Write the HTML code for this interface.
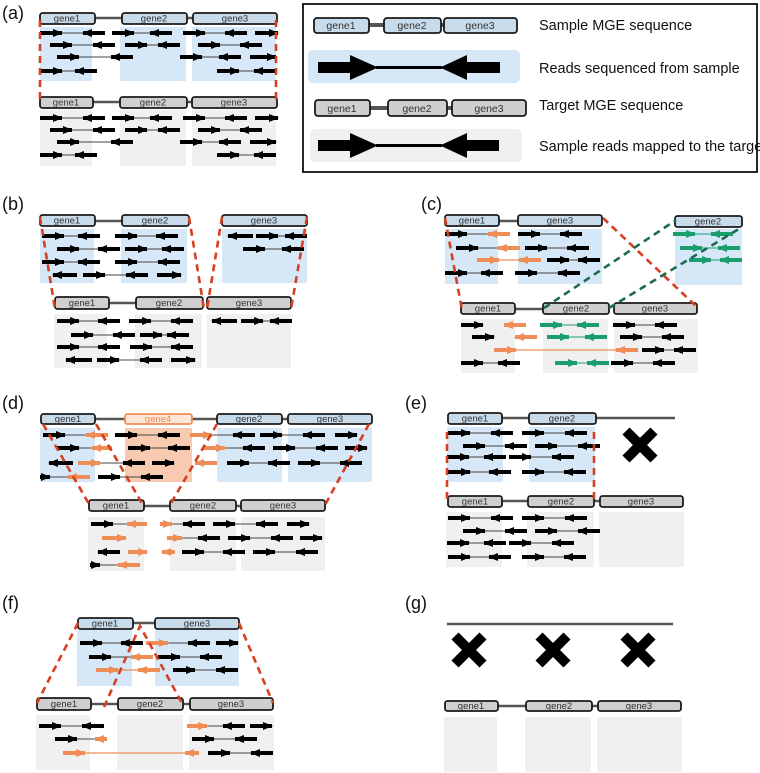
<!DOCTYPE html>
<html><head><meta charset="utf-8"><style>
html,body{margin:0;padding:0;background:#fff}
svg{display:block}
text{font-family:"Liberation Sans",sans-serif}
.lab{font-size:18px;fill:#111}
.gt{font-size:9.5px;fill:#333;text-anchor:middle}
.sb{fill:#c8dbea;stroke:#1a1a1a;stroke-width:1.8}
.tb{fill:#cfcfcf;stroke:#1a1a1a;stroke-width:1.8}
.bl{fill:#d6e8f7}.gy{fill:#f0f0f0}.ob{fill:#f8cbb0}
.ln{stroke:#555;stroke-width:2.5}
.k path{stroke:#000;stroke-width:4;fill:none;marker-end:url(#mk)}
.o path{stroke:#f08c55;stroke-width:4;fill:none;marker-end:url(#mo)}
.gr path{stroke:#1a9e6e;stroke-width:4;fill:none;marker-end:url(#mg)}
.th path{stroke:#444;stroke-width:1;fill:none}
.tho path{stroke:#f08c55;stroke-width:1.2;fill:none}
.thg path{stroke:#1a9e6e;stroke-width:1;fill:none}
.rd{stroke:#d6401e;stroke-width:2.6;stroke-dasharray:7 5;fill:none}
.gd{stroke:#1d6b4f;stroke-width:2.6;stroke-dasharray:7 5;fill:none}
.x line{stroke:#000;stroke-width:10}
.leg{font-size:14.5px;fill:#111}
</style></head><body>
<svg width="760" height="773" viewBox="0 0 760 773" xmlns="http://www.w3.org/2000/svg">
<defs>
<marker id="mk" viewBox="0 -5 10 10" refX="9" refY="0" markerWidth="10" markerHeight="10" markerUnits="userSpaceOnUse" orient="auto"><path d="M0,-4 L10,0 L0,4z" fill="#000"/></marker>
<marker id="mo" viewBox="0 -5 10 10" refX="9" refY="0" markerWidth="10" markerHeight="10" markerUnits="userSpaceOnUse" orient="auto"><path d="M0,-4 L10,0 L0,4z" fill="#f08c55"/></marker>
<marker id="mg" viewBox="0 -5 10 10" refX="9" refY="0" markerWidth="10" markerHeight="10" markerUnits="userSpaceOnUse" orient="auto"><path d="M0,-4 L10,0 L0,4z" fill="#1a9e6e"/></marker>
</defs>

<!-- ========== (a) ========== -->
<text class="lab" x="2" y="19">(a)</text>
<rect class="bl" x="40" y="27" width="52" height="54"/><rect class="bl" x="120" y="27" width="66" height="54"/><rect class="bl" x="192" y="27" width="84" height="54"/>
<rect class="gy" x="40" y="110" width="52" height="56"/><rect class="gy" x="120" y="110" width="66" height="56"/><rect class="gy" x="192" y="110" width="84" height="56"/>
<line class="ln" x1="95" y1="18" x2="122" y2="18"/><line class="ln" x1="187" y1="18" x2="193" y2="18"/>
<rect class="sb" x="40" y="13" width="55" height="11" rx="2.5"/><text class="gt" x="67" y="21.5">gene1</text>
<rect class="sb" x="122" y="13" width="65" height="11" rx="2.5"/><text class="gt" x="154" y="21.5">gene2</text>
<rect class="sb" x="193" y="13" width="84" height="11" rx="2.5"/><text class="gt" x="235" y="21.5">gene3</text>
<line class="ln" x1="93" y1="102" x2="120" y2="102"/><line class="ln" x1="187" y1="102" x2="192" y2="102"/>
<rect class="tb" x="40" y="97" width="53" height="11" rx="2.5"/><text class="gt" x="66" y="105.5">gene1</text>
<rect class="tb" x="120" y="97" width="67" height="11" rx="2.5"/><text class="gt" x="153" y="105.5">gene2</text>
<rect class="tb" x="192" y="97" width="85" height="11" rx="2.5"/><text class="gt" x="234" y="105.5">gene3</text>
<g class="th">
<path d="M62 33H83M134 33H150M205 33H225M72 45H93M147 45H158M220 45H240M79 57H111M202 57H219M62 71H75M239 71H254"/>
<path d="M62 118H83M134 118H150M205 118H225M72 130H93M147 130H158M220 130H240M79 142H111M202 142H219M62 155H75M239 155H254"/>
</g>
<g class="k">
<path d="M40 33h22"/><path d="M105 33h-22"/><path d="M112 33h22"/><path d="M172 33h-22"/><path d="M183 33h22"/><path d="M247 33h-22"/><path d="M255 33h23"/>
<path d="M50 45h22"/><path d="M115 45h-22"/><path d="M125 45h22"/><path d="M180 45h-22"/><path d="M198 45h22"/><path d="M262 45h-22"/>
<path d="M57 57h22"/><path d="M133 57h-22"/><path d="M180 57h22"/><path d="M241 57h-22"/><path d="M250 57h26"/>
<path d="M40 71h22"/><path d="M97 71h-22"/><path d="M217 71h22"/><path d="M276 71h-22"/>
<path d="M40 118h22"/><path d="M105 118h-22"/><path d="M112 118h22"/><path d="M172 118h-22"/><path d="M183 118h22"/><path d="M247 118h-22"/><path d="M255 118h23"/>
<path d="M50 130h22"/><path d="M115 130h-22"/><path d="M125 130h22"/><path d="M180 130h-22"/><path d="M198 130h22"/><path d="M262 130h-22"/>
<path d="M57 142h22"/><path d="M133 142h-22"/><path d="M180 142h22"/><path d="M241 142h-22"/><path d="M250 142h26"/>
<path d="M40 155h22"/><path d="M97 155h-22"/><path d="M217 155h22"/><path d="M276 155h-22"/>
</g>
<line class="rd" x1="40" y1="20" x2="40" y2="103"/><line class="rd" x1="276" y1="20" x2="276" y2="103"/>

<!-- legend -->
<rect x="303" y="4" width="454" height="168" fill="none" stroke="#111" stroke-width="1.8"/>
<line class="ln" x1="369" y1="25" x2="384" y2="25" style="stroke-width:4"/><line class="ln" x1="441" y1="25" x2="444" y2="25" style="stroke-width:4"/>
<rect class="sb" x="314" y="18" width="55" height="15" rx="3"/><text class="gt" x="341" y="29" style="font-size:10.5px">gene1</text>
<rect class="sb" x="384" y="18" width="57" height="15" rx="3"/><text class="gt" x="412" y="29" style="font-size:10.5px">gene2</text>
<rect class="sb" x="444" y="18" width="73" height="15" rx="3"/><text class="gt" x="480" y="29" style="font-size:10.5px">gene3</text>
<text class="leg" x="539" y="30">Sample MGE sequence</text>
<rect class="bl" x="308" y="50" width="212" height="33" rx="5"/>
<rect x="318" y="62" width="34" height="11" fill="#000"/><polygon points="350,55 378,67.5 350,80" fill="#000"/>
<line x1="376" y1="67.5" x2="442" y2="67.5" stroke="#000" stroke-width="3"/>
<polygon points="467,55 440,67.5 467,80" fill="#000"/><rect x="465" y="62" width="35" height="11" fill="#000"/>
<text class="leg" x="539" y="73">Reads sequenced from sample</text>
<line class="ln" x1="370" y1="108" x2="388" y2="108" style="stroke-width:4"/><line class="ln" x1="447" y1="108" x2="452" y2="108" style="stroke-width:4"/>
<rect class="tb" x="315" y="100" width="55" height="16" rx="3"/><text class="gt" x="342" y="112" style="font-size:10.5px">gene1</text>
<rect class="tb" x="388" y="100" width="59" height="16" rx="3"/><text class="gt" x="417" y="112" style="font-size:10.5px">gene2</text>
<rect class="tb" x="452" y="100" width="74" height="16" rx="3"/><text class="gt" x="489" y="112" style="font-size:10.5px">gene3</text>
<text class="leg" x="539" y="110">Target MGE sequence</text>
<rect class="gy" x="310" y="129" width="212" height="33" rx="5"/>
<rect x="318" y="140" width="34" height="11" fill="#000"/><polygon points="350,133 378,145.5 350,158" fill="#000"/>
<line x1="376" y1="145.5" x2="442" y2="145.5" stroke="#000" stroke-width="3"/>
<polygon points="467,133 440,145.5 467,158" fill="#000"/><rect x="465" y="140" width="34" height="11" fill="#000"/>
<text class="leg" x="539" y="151">Sample reads mapped to the target</text>

<!-- ========== (b) ========== -->
<text class="lab" x="2" y="210">(b)</text>
<rect class="bl" x="40" y="229" width="54" height="54"/><rect class="bl" x="121" y="229" width="66" height="54"/><rect class="bl" x="222" y="229" width="85" height="54"/>
<rect class="gy" x="54" y="314" width="53" height="54"/><rect class="gy" x="135" y="314" width="67" height="54"/><rect class="gy" x="207" y="314" width="84" height="54"/>
<line class="ln" x1="95" y1="221" x2="122" y2="221"/>
<rect class="sb" x="40" y="215" width="55" height="11" rx="2.5"/><text class="gt" x="67" y="223.5">gene1</text>
<rect class="sb" x="122" y="215" width="67" height="11" rx="2.5"/><text class="gt" x="155" y="223.5">gene2</text>
<rect class="sb" x="222" y="215" width="85" height="11" rx="2.5"/><text class="gt" x="264" y="223.5">gene3</text>
<line class="ln" x1="109" y1="303" x2="136" y2="303"/>
<rect class="tb" x="55" y="297" width="54" height="12" rx="2.5"/><text class="gt" x="82" y="306">gene1</text>
<rect class="tb" x="136" y="297" width="67" height="12" rx="2.5"/><text class="gt" x="169" y="306">gene2</text>
<rect class="tb" x="207" y="297" width="84" height="12" rx="2.5"/><text class="gt" x="249" y="306">gene3</text>
<g class="th"><path d="M64 236H78M137 236H156M278 236H285M79 249H98M147 249H162M265 249H282M64 262H78M137 262H158M105 275H126"/>
<path d="M79 321H98M151 321H171M263 321H270M93 335H113M162 335H167M79 347H98M152 347H171M119 360H140"/></g>
<g class="k">
<path d="M42 236h22"/><path d="M100 236h-22"/><path d="M115 236h22"/><path d="M178 236h-22"/><path d="M253 236h-25"/><path d="M256 236h22"/><path d="M307 236h-22"/>
<path d="M57 249h22"/><path d="M120 249h-22"/><path d="M125 249h22"/><path d="M184 249h-22"/><path d="M243 249h22"/><path d="M304 249h-22"/>
<path d="M42 262h22"/><path d="M100 262h-22"/><path d="M115 262h22"/><path d="M180 262h-22"/>
<path d="M77 275h-24"/><path d="M83 275h22"/><path d="M148 275h-22"/><path d="M157 275h24"/>
<path d="M57 321h22"/><path d="M120 321h-22"/><path d="M129 321h22"/><path d="M193 321h-22"/><path d="M237 321h-25"/><path d="M241 321h22"/><path d="M292 321h-22"/>
<path d="M71 335h22"/><path d="M135 335h-22"/><path d="M140 335h22"/><path d="M189 335h-22"/>
<path d="M57 347h22"/><path d="M120 347h-22"/><path d="M130 347h22"/><path d="M193 347h-22"/>
<path d="M92 360h-26"/><path d="M97 360h22"/><path d="M162 360h-22"/><path d="M171 360h24"/>
</g>
<line class="rd" x1="40" y1="217" x2="55" y2="309"/><line class="rd" x1="189" y1="217" x2="204" y2="309"/>
<line class="rd" x1="222" y1="217" x2="207" y2="309"/><line class="rd" x1="307" y1="217" x2="291" y2="309"/>

<!-- ========== (c) ========== -->
<text class="lab" x="421" y="210">(c)</text>
<rect class="bl" x="445" y="229" width="53" height="55"/><rect class="bl" x="518" y="229" width="84" height="55"/><rect class="bl" x="675" y="229" width="67" height="56"/>
<rect class="gy" x="461" y="319" width="54" height="54"/><rect class="gy" x="543" y="319" width="65" height="54"/><rect class="gy" x="614" y="319" width="84" height="54"/>
<line class="ln" x1="499" y1="221" x2="518" y2="221"/>
<rect class="sb" x="445" y="215" width="54" height="11" rx="2.5"/><text class="gt" x="472" y="223.5">gene1</text>
<rect class="sb" x="518" y="215" width="84" height="11" rx="2.5"/><text class="gt" x="560" y="223.5">gene3</text>
<rect class="sb" x="675" y="216" width="67" height="11" rx="2.5"/><text class="gt" x="708" y="224.5">gene2</text>
<line class="ln" x1="515" y1="309" x2="543" y2="309"/>
<rect class="tb" x="461" y="303" width="54" height="11" rx="2.5"/><text class="gt" x="488" y="311.5">gene1</text>
<rect class="tb" x="543" y="303" width="66" height="11" rx="2.5"/><text class="gt" x="576" y="311.5">gene2</text>
<rect class="tb" x="614" y="303" width="83" height="11" rx="2.5"/><text class="gt" x="655" y="311.5">gene3</text>
<g class="th"><path d="M467 234H488M540 234H560M478 248H498M547 248H567M569 260H578M467 273H481M537 273H558M635 325H655M642 337H662M664 350H674M483 363H498M633 363H653"/></g>
<g class="tho"><path d="M499 260H519M516 350H616"/></g>
<g class="thg"><path d="M695 234H711M702 248H718M711 260H720M562 325H577M569 337H585M577 363H587"/></g>
<g class="k">
<path d="M445 234h22"/><path d="M518 234h22"/><path d="M582 234h-22"/>
<path d="M456 248h22"/><path d="M525 248h22"/><path d="M589 248h-22"/>
<path d="M547 260h22"/><path d="M600 260h-22"/>
<path d="M445 273h22"/><path d="M503 273h-22"/><path d="M515 273h22"/><path d="M580 273h-22"/>
<path d="M461 325h22"/><path d="M613 325h22"/><path d="M677 325h-22"/>
<path d="M472 337h22"/><path d="M620 337h22"/><path d="M684 337h-22"/>
<path d="M642 350h22"/><path d="M696 350h-22"/>
<path d="M461 363h22"/><path d="M520 363h-22"/><path d="M611 363h22"/><path d="M675 363h-22"/>
</g>
<g class="o">
<path d="M510 234h-22"/><path d="M520 248h-22"/><path d="M477 260h22"/><path d="M541 260h-22"/>
<path d="M526 325h-22"/><path d="M537 337h-22"/><path d="M494 350h22"/><path d="M638 350h-22"/>
</g>
<g class="gr">
<path d="M673 234h22"/><path d="M733 234h-22"/><path d="M680 248h22"/><path d="M740 248h-22"/><path d="M689 260h22"/><path d="M742 260h-22"/>
<path d="M540 325h22"/><path d="M599 325h-22"/><path d="M547 337h22"/><path d="M607 337h-22"/><path d="M555 363h22"/><path d="M609 363h-22"/>
</g>
<line class="rd" x1="445" y1="218" x2="462" y2="310"/><line class="rd" x1="603" y1="218" x2="697" y2="307"/>
<line class="gd" x1="544" y1="308" x2="676" y2="220"/><line class="gd" x1="609" y1="308" x2="742" y2="227"/>

<!-- ========== (d) ========== -->
<text class="lab" x="2" y="409">(d)</text>
<rect class="bl" x="40" y="428" width="55" height="54"/><rect class="ob" x="125" y="428" width="67" height="54"/><rect class="bl" x="217" y="428" width="65" height="54"/><rect class="bl" x="288" y="428" width="84" height="54"/>
<rect class="gy" x="88" y="517" width="56" height="54"/><rect class="gy" x="170" y="517" width="66" height="54"/><rect class="gy" x="241" y="517" width="84" height="54"/>
<line class="ln" x1="95" y1="419" x2="125" y2="419"/><line class="ln" x1="192" y1="419" x2="217" y2="419"/><line class="ln" x1="282" y1="419" x2="288" y2="419"/>
<rect class="sb" x="41" y="414" width="54" height="10" rx="2.5"/><text class="gt" x="68" y="422">gene1</text>
<rect x="125" y="414" width="67" height="10" rx="2.5" fill="#fde6d8" stroke="#f08c55" stroke-width="1.8"/><text class="gt" x="158" y="422" style="fill:#f08c55">gene4</text>
<rect class="sb" x="217" y="414" width="65" height="10" rx="2.5"/><text class="gt" x="249" y="422">gene2</text>
<rect class="sb" x="288" y="414" width="84" height="10" rx="2.5"/><text class="gt" x="330" y="422">gene3</text>
<line class="ln" x1="144" y1="506" x2="170" y2="506"/><line class="ln" x1="236" y1="506" x2="241" y2="506"/>
<rect class="tb" x="89" y="500" width="55" height="11" rx="2.5"/><text class="gt" x="116" y="508.5">gene1</text>
<rect class="tb" x="170" y="500" width="66" height="11" rx="2.5"/><text class="gt" x="203" y="508.5">gene2</text>
<rect class="tb" x="241" y="500" width="84" height="11" rx="2.5"/><text class="gt" x="283" y="508.5">gene3</text>
<g class="th"><path d="M65 435H86M137 435H158M212 435H233M282 435H303M79 448H92M150 448H168M225 448H243M295 448H316M100 463H123M249 463H268M320 463H340M50 477H68M120 477H141
M113 524H127M172 524H183M235 524H256M182 538H198M250 538H271M204 552H223M275 552H296M100 565H118"/></g>
<g class="k">
<path d="M43 435h22"/><path d="M115 435h22"/><path d="M180 435h-22"/><path d="M255 435h-22"/><path d="M260 435h22"/><path d="M325 435h-22"/><path d="M335 435h22"/>
<path d="M57 448h22"/><path d="M128 448h22"/><path d="M190 448h-22"/><path d="M265 448h-22"/><path d="M273 448h22"/><path d="M338 448h-22"/><path d="M345 448h22"/>
<path d="M73 463h-24"/><path d="M145 463h-22"/><path d="M152 463h22"/><path d="M227 463h22"/><path d="M290 463h-22"/><path d="M298 463h22"/><path d="M362 463h-22"/>
<path d="M40 477h10"/><path d="M98 477h22"/><path d="M163 477h-22"/>
<path d="M91 524h22"/><path d="M205 524h-22"/><path d="M213 524h22"/><path d="M278 524h-22"/><path d="M287 524h22"/>
<path d="M220 538h-22"/><path d="M228 538h22"/><path d="M293 538h-22"/><path d="M300 538h22"/>
<path d="M120 552h-22"/><path d="M182 552h22"/><path d="M245 552h-22"/><path d="M253 552h22"/><path d="M318 552h-22"/>
<path d="M90 565h10"/>
</g>
<g class="o">
<path d="M108 435h-22"/><path d="M190 435h22"/><path d="M112 448h-20"/><path d="M203 448h22"/>
<path d="M78 463h22"/><path d="M217 463h-22"/><path d="M90 477h-22"/>
<path d="M147 524h-20"/><path d="M160 524h12"/><path d="M102 538h24"/><path d="M167 538h15"/>
<path d="M128 552h19"/><path d="M175 552h-13"/><path d="M140 565h-22"/>
</g>
<line class="rd" x1="43" y1="424" x2="89" y2="504"/><line class="rd" x1="96" y1="424" x2="143" y2="505"/>
<line class="rd" x1="217" y1="424" x2="170" y2="505"/><line class="rd" x1="369" y1="424" x2="325" y2="505"/>

<!-- ========== (e) ========== -->
<text class="lab" x="405" y="409">(e)</text>
<rect class="bl" x="447" y="427" width="56" height="55"/><rect class="bl" x="529" y="427" width="66" height="55"/>
<rect class="gy" x="446" y="512" width="56" height="55"/><rect class="gy" x="527" y="512" width="67" height="55"/><rect class="gy" x="599" y="512" width="85" height="55"/>
<line class="ln" x1="502" y1="418" x2="529" y2="418"/><line class="ln" x1="596" y1="418" x2="675" y2="418"/>
<rect class="sb" x="448" y="413" width="54" height="11" rx="2.5"/><text class="gt" x="475" y="421.5">gene1</text>
<rect class="sb" x="529" y="413" width="67" height="11" rx="2.5"/><text class="gt" x="562" y="421.5">gene2</text>
<line class="ln" x1="502" y1="501" x2="528" y2="501"/><line class="ln" x1="594" y1="501" x2="600" y2="501"/>
<rect class="tb" x="448" y="496" width="54" height="11" rx="2.5"/><text class="gt" x="475" y="504.5">gene1</text>
<rect class="tb" x="528" y="496" width="66" height="11" rx="2.5"/><text class="gt" x="561" y="504.5">gene2</text>
<rect class="tb" x="600" y="496" width="83" height="11" rx="2.5"/><text class="gt" x="641" y="504.5">gene3</text>
<g class="x"><line x1="626" y1="431" x2="654" y2="459"/><line x1="654" y1="431" x2="626" y2="459"/></g>
<g class="th"><path d="M470 433H491M544 433H565M485 446H505M557 446H578M469 457H484M531 457H552M470 472H489M544 472H564
M470 518H491M544 518H565M485 531H505M557 531H578M469 543H484M531 543H552M470 557H489M544 557H564"/></g>
<g class="k">
<path d="M448 433h22"/><path d="M513 433h-22"/><path d="M522 433h22"/><path d="M587 433h-22"/>
<path d="M463 446h22"/><path d="M527 446h-22"/><path d="M535 446h22"/><path d="M600 446h-22"/>
<path d="M447 457h22"/><path d="M506 457h-22"/><path d="M509 457h22"/><path d="M574 457h-22"/>
<path d="M448 472h22"/><path d="M511 472h-22"/><path d="M522 472h22"/><path d="M586 472h-22"/>
<path d="M448 518h22"/><path d="M513 518h-22"/><path d="M522 518h22"/><path d="M587 518h-22"/>
<path d="M463 531h22"/><path d="M527 531h-22"/><path d="M535 531h22"/><path d="M600 531h-22"/>
<path d="M447 543h22"/><path d="M506 543h-22"/><path d="M509 543h22"/><path d="M574 543h-22"/>
<path d="M448 557h22"/><path d="M511 557h-22"/><path d="M522 557h22"/><path d="M586 557h-22"/>
</g>
<line class="rd" x1="447" y1="432" x2="447" y2="500"/><line class="rd" x1="594" y1="432" x2="594" y2="500"/>

<!-- ========== (f) ========== -->
<text class="lab" x="2" y="609">(f)</text>
<rect class="bl" x="77" y="630" width="55" height="56"/><rect class="bl" x="155" y="630" width="84" height="56"/>
<rect class="gy" x="36" y="715" width="54" height="55"/><rect class="gy" x="117" y="715" width="66" height="55"/><rect class="gy" x="189" y="715" width="85" height="55"/>
<line class="ln" x1="133" y1="623" x2="155" y2="623"/>
<rect class="sb" x="78" y="618" width="55" height="11" rx="2.5"/><text class="gt" x="105" y="626.5">gene1</text>
<rect class="sb" x="155" y="618" width="84" height="11" rx="2.5"/><text class="gt" x="197" y="626.5">gene3</text>
<line class="ln" x1="91" y1="704" x2="118" y2="704"/><line class="ln" x1="183" y1="704" x2="190" y2="704"/>
<rect class="tb" x="37" y="698" width="54" height="12" rx="2.5"/><text class="gt" x="64" y="707">gene1</text>
<rect class="tb" x="118" y="698" width="65" height="12" rx="2.5"/><text class="gt" x="150" y="707">gene2</text>
<rect class="tb" x="190" y="698" width="83" height="12" rx="2.5"/><text class="gt" x="231" y="707">gene3</text>
<g class="th"><path d="M102 643H121M168 643H188M111 657H131M180 657H200M195 670H216M61 726H82M207 726H223M77 739H95M214 739H235M230 753H251"/></g>
<g class="tho"><path d="M118 670H138M85 753H185"/></g>
<g class="k">
<path d="M80 643h22"/><path d="M143 643h-22"/><path d="M210 643h-22"/><path d="M216 643h22"/>
<path d="M89 657h22"/><path d="M158 657h22"/><path d="M222 657h-22"/>
<path d="M173 670h22"/><path d="M238 670h-22"/>
<path d="M39 726h22"/><path d="M104 726h-22"/><path d="M245 726h-22"/><path d="M250 726h22"/>
<path d="M55 739h22"/><path d="M192 739h22"/><path d="M257 739h-22"/>
<path d="M208 753h22"/><path d="M273 753h-22"/>
</g>
<g class="o">
<path d="M146 643h22"/><path d="M153 657h-22"/><path d="M96 670h22"/><path d="M160 670h-22"/>
<path d="M187 726h20"/><path d="M107 739h-12"/><path d="M63 753h22"/><path d="M199 753h-14"/>
</g>
<line class="rd" x1="78" y1="623" x2="37" y2="703"/><line class="rd" x1="239" y1="623" x2="273" y2="703"/>
<polyline class="rd" points="104,707 140,626 183,705"/>

<!-- ========== (g) ========== -->
<text class="lab" x="405" y="609">(g)</text>
<line class="ln" x1="447" y1="624" x2="673" y2="624"/>
<g class="x"><line x1="455" y1="636" x2="483" y2="664"/><line x1="483" y1="636" x2="455" y2="664"/>
<line x1="539" y1="636" x2="567" y2="664"/><line x1="567" y1="636" x2="539" y2="664"/>
<line x1="624" y1="636" x2="652" y2="664"/><line x1="652" y1="636" x2="624" y2="664"/></g>
<rect class="gy" x="444" y="717" width="53" height="55"/><rect class="gy" x="525" y="717" width="66" height="55"/><rect class="gy" x="597" y="717" width="85" height="55"/>
<line class="ln" x1="498" y1="706" x2="526" y2="706"/><line class="ln" x1="592" y1="706" x2="598" y2="706"/>
<rect class="tb" x="445" y="701" width="53" height="10" rx="2.5"/><text class="gt" x="471" y="709">gene1</text>
<rect class="tb" x="526" y="701" width="66" height="10" rx="2.5"/><text class="gt" x="559" y="709">gene2</text>
<rect class="tb" x="598" y="701" width="83" height="10" rx="2.5"/><text class="gt" x="639" y="709">gene3</text>
</svg>
</body></html>
